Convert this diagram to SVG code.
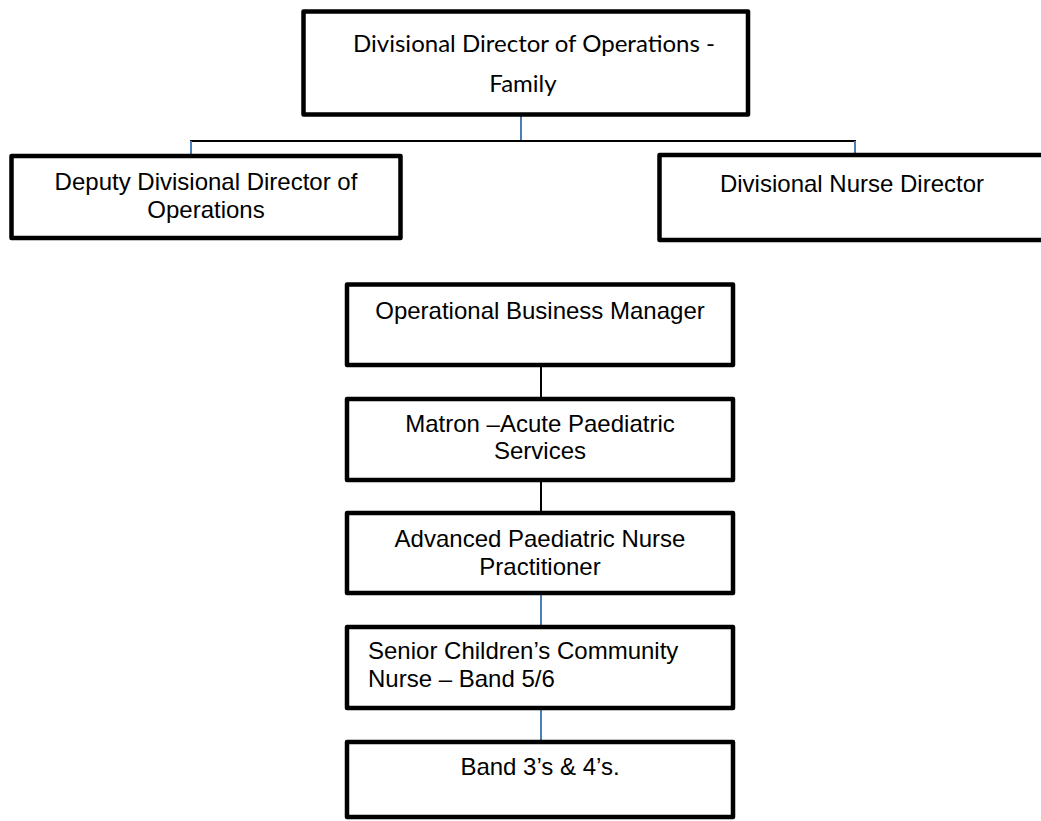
<svg xmlns="http://www.w3.org/2000/svg" width="1041" height="821" viewBox="0 0 1041 821">
<style>
.box{fill:#fff;stroke:#000;stroke-width:4.5;stroke-linejoin:round}
.t{font-family:"Liberation Sans",Arial,sans-serif;font-size:24px;fill:#000;text-anchor:middle}
.tl{font-family:"Liberation Sans",Arial,sans-serif;font-size:24px;fill:#000}
.c{font-family:Lato,"Open Sans",sans-serif;font-size:24px;fill:#000;text-anchor:middle}
.blk{stroke:#000;stroke-width:2;fill:none}
.blu{stroke:#4A7EBB;stroke-width:2;fill:none}
</style>
<rect width="1041" height="821" fill="#fff"/>
<g id="connectors">
<line class="blu" x1="521" y1="116" x2="521" y2="141"/>
<line class="blk" x1="190" y1="141" x2="856" y2="141"/>
<line class="blu" x1="191" y1="141" x2="191" y2="154"/>
<line class="blu" x1="855" y1="141" x2="855" y2="153"/>
<line class="blk" x1="541" y1="367" x2="541" y2="397"/>
<line class="blk" x1="541" y1="482" x2="541" y2="511"/>
<line class="blu" x1="541" y1="595" x2="541" y2="625"/>
<line class="blu" x1="541" y1="710" x2="541" y2="740"/>
</g>
<g id="n-director">
<rect class="box" x="303.5" y="11.5" width="444.5" height="103"/>
<text class="c" x="534" y="52" textLength="362" lengthAdjust="spacingAndGlyphs">Divisional Director of Operations -</text>
<text class="c" x="523" y="92">Family</text>
</g>
<g id="n-deputy">
<rect class="box" x="11.5" y="156" width="389" height="82"/>
<text class="t" x="206" y="190">Deputy Divisional Director of</text>
<text class="t" x="206" y="218">Operations</text>
</g>
<g id="n-nurse">
<rect class="box" x="659.5" y="155" width="390" height="85"/>
<text class="t" x="852" y="192">Divisional Nurse Director</text>
</g>
<g id="n-obm">
<rect class="box" x="347" y="284.5" width="386" height="80.5"/>
<text class="t" x="540" y="319">Operational Business Manager</text>
</g>
<g id="n-matron">
<rect class="box" x="347" y="399" width="386" height="81"/>
<text class="t" x="540" y="432">Matron –Acute Paediatric</text>
<text class="t" x="540" y="459">Services</text>
</g>
<g id="n-apnp">
<rect class="box" x="347" y="513" width="386" height="80"/>
<text class="t" x="540" y="547">Advanced Paediatric Nurse</text>
<text class="t" x="540" y="575">Practitioner</text>
</g>
<g id="n-senior">
<rect class="box" x="347" y="627" width="386" height="81"/>
<text class="tl" x="368" y="659">Senior Children’s Community</text>
<text class="tl" x="368" y="687">Nurse – Band 5/6</text>
</g>
<g id="n-band">
<rect class="box" x="347" y="742" width="386" height="75"/>
<text class="t" x="540" y="775">Band 3’s &amp; 4’s.</text>
</g>
</svg>
